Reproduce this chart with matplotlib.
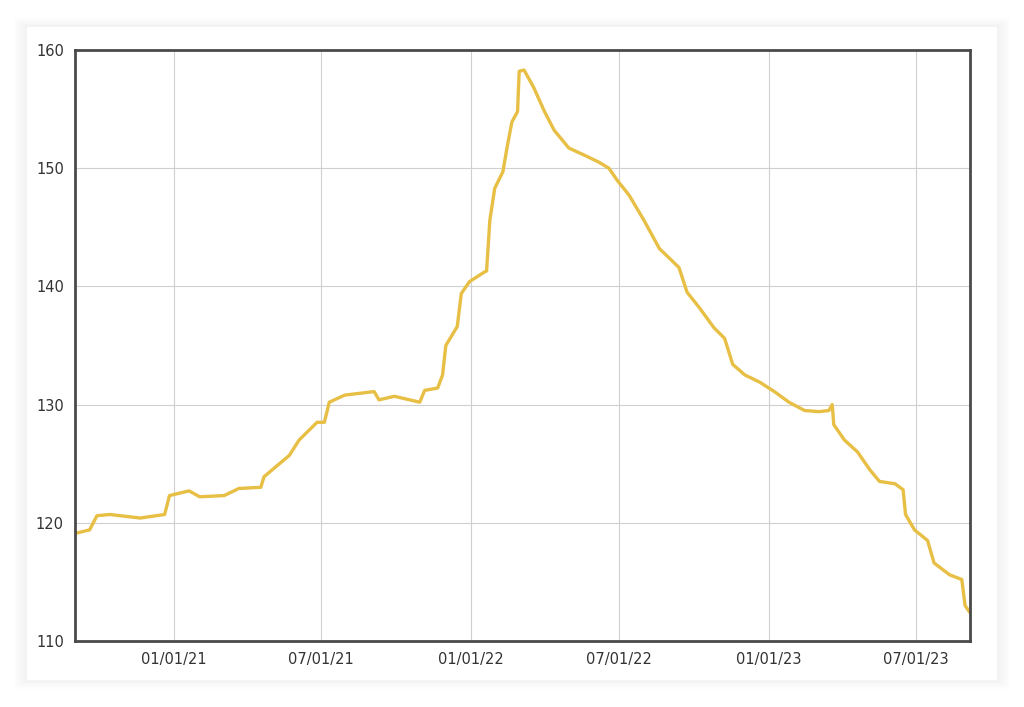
import matplotlib
matplotlib.use("Agg")
import matplotlib.pyplot as plt
import matplotlib.dates as mdates
from matplotlib.patches import Rectangle
import pandas as pd

# Werte
dates = ["2020-09-02", "2020-09-20", "2020-09-29", "2020-10-15", "2020-11-21", "2020-12-21",
         "2020-12-27", "2021-01-20", "2021-02-02", "2021-03-04", "2021-03-22", "2021-04-18",
         "2021-04-22", "2021-05-23", "2021-06-04", "2021-06-26", "2021-07-05", "2021-07-11",
         "2021-07-30", "2021-09-04", "2021-09-10", "2021-09-29", "2021-10-30", "2021-11-05",
         "2021-11-21", "2021-11-27", "2021-12-01", "2021-12-15", "2021-12-20", "2021-12-30",
         "2022-01-17", "2022-01-20", "2022-01-24", "2022-01-30", "2022-02-09", "2022-02-14",
         "2022-02-20", "2022-02-27", "2022-03-01", "2022-03-07", "2022-03-19", "2022-04-01",
         "2022-04-13", "2022-05-01", "2022-05-20", "2022-06-07", "2022-06-19", "2022-06-29",
         "2022-07-14", "2022-08-01", "2022-08-20", "2022-09-13", "2022-09-23", "2022-10-08",
         "2022-10-26", "2022-11-08", "2022-11-18", "2022-12-03", "2022-12-21", "2023-01-08",
         "2023-01-26", "2023-02-14", "2023-03-04", "2023-03-16", "2023-03-20", "2023-03-22",
         "2023-04-04", "2023-04-20", "2023-05-05", "2023-05-17", "2023-06-05", "2023-06-15",
         "2023-06-18", "2023-06-29", "2023-07-15", "2023-07-23", "2023-08-11", "2023-08-26",
         "2023-08-30", "2023-09-04"]
values = [119.1, 119.4, 120.6, 120.7, 120.4, 120.7,
          122.3, 122.7, 122.2, 122.3, 122.9, 123.0,
          123.9, 125.7, 127.0, 128.5, 128.5, 130.2,
          130.8, 131.1, 130.4, 130.7, 130.2, 131.2,
          131.4, 132.5, 135.0, 136.6, 139.4, 140.4,
          141.2, 141.3, 145.6, 148.3, 149.7, 151.7,
          153.9, 154.8, 158.2, 158.3, 156.8, 154.8,
          153.2, 151.7, 151.1, 150.5, 150.0, 149.0,
          147.7, 145.6, 143.2, 141.6, 139.5, 138.2,
          136.5, 135.6, 133.4, 132.5, 131.9, 131.1,
          130.2, 129.5, 129.4, 129.5, 130.0, 128.3,
          127.0, 126.0, 124.5, 123.5, 123.3, 122.8,
          120.7, 119.4, 118.5, 116.6, 115.6, 115.2,
          113.0, 112.5]
x_ticks = ["2021-01-01", "2021-07-01", "2022-01-01", "2022-07-01", "2023-01-01", "2023-07-01"]
y_ticks = [110, 120, 130, 140, 150, 160]

dt = pd.to_datetime(dates)

fig = plt.figure(figsize=(10.24, 7.07), dpi=100, facecolor="white")

# Karte mit weichem Schatten
for i in range(6):
    pad = (6 - i) * 0.002
    fig.patches.append(Rectangle((0.026 - pad, 0.038 - pad), 0.948 + 2 * pad, 0.924 + 2 * pad,
                                 transform=fig.transFigure, facecolor="black", alpha=0.008,
                                 edgecolor="none", zorder=0))
fig.patches.append(Rectangle((0.026, 0.038), 0.948, 0.924, transform=fig.transFigure,
                             facecolor="white", edgecolor="none", zorder=1))

ax = fig.add_axes([0.0732, 0.0934, 0.8740, 0.8359])
ax.set_zorder(5)
ax.set_facecolor("none")
ax.plot(dt, values, color="#E8BF45", linewidth=2.4, solid_joinstyle="round")

ax.set_xlim(pd.Timestamp("2020-09-02"), pd.Timestamp("2023-09-05"))
ax.set_ylim(110, 160)
ax.set_xticks(pd.to_datetime(x_ticks))
ax.xaxis.set_major_formatter(mdates.DateFormatter("%m/%d/%y"))
ax.set_yticks(y_ticks)
ax.grid(True, color="#d0d0d0", linewidth=0.8)
ax.tick_params(length=0, labelsize=10.5, labelcolor="#333333", pad=8)
for s in ax.spines.values():
    s.set_color("#4a4a4a")
    s.set_linewidth(2)

fig.savefig("out.png", dpi=100, facecolor="white")
